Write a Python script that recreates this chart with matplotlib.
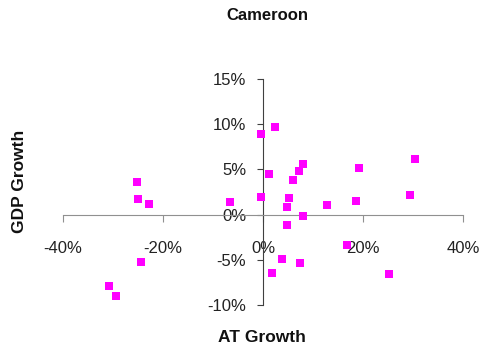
import matplotlib
matplotlib.use("Agg")
import matplotlib.pyplot as plt
from matplotlib.ticker import FuncFormatter

# AT growth (x) and GDP growth (y), in percent
at_growth = [-0.5, 2.3, 1.1, -0.5, 5.2, 4.7, 4.8, 6.0, 7.1, 7.9, 7.9, 12.8, 19.2, 18.7,
             16.8, 30.5, 29.5, 25.3, 3.7, 7.3, 1.7, -25.3, -25.1, -22.9, -6.7, -24.4,
             -30.8, -29.5]
gdp_growth = [8.9, 9.7, 4.5, 2.0, 1.8, 0.8, -1.2, 3.8, 4.8, 5.6, -0.2, 1.1, 5.2, 1.5,
              -3.4, 6.2, 2.2, -6.6, -4.9, -5.4, -6.5, 3.6, 1.7, 1.2, 1.4, -5.2,
              -7.9, -9.0]

x_ticks = [-40, -20, 0, 20, 40]
y_ticks = [-10, -5, 0, 5, 10, 15]

plt.rcParams['font.family'] = ['Liberation Sans', 'DejaVu Sans']

fig = plt.figure(figsize=(4.85, 3.54), dpi=100)
ax = fig.add_axes([0.13, 0.1384, 0.8246, 0.6384])

ax.scatter(at_growth, gdp_growth, s=38, marker='s', c='#FF00FF', linewidths=0, zorder=3)

ax.set_xlim(-40, 40)
ax.set_ylim(-10, 15)
ax.set_xticks(x_ticks)
ax.set_yticks(y_ticks)
pct = FuncFormatter(lambda v, _: f"{v:.0f}%")
ax.xaxis.set_major_formatter(pct)
ax.yaxis.set_major_formatter(pct)

ax.spines['left'].set_position('zero')
ax.spines['bottom'].set_position('zero')
ax.spines['right'].set_visible(False)
ax.spines['top'].set_visible(False)
ax.spines['left'].set_color('#404040')
ax.spines['bottom'].set_color('#909090')
ax.tick_params(axis='x', direction='out', length=5, color='#909090',
               labelsize=12, pad=14)
ax.tick_params(axis='y', direction='out', length=4, color='#404040',
               labelsize=12, pad=8)
for lab in ax.get_xticklabels() + ax.get_yticklabels():
    lab.set_color('#222222')

fig.text(267 / 485, 1 - 16 / 354, "Cameroon", ha='center', va='center', fontsize=12,
         fontweight='bold', color='#111111')
fig.text(20 / 485, 1 - 181 / 354, "GDP Growth", ha='center', va='center', rotation=90,
         fontsize=12.5, fontweight='bold', color='#111111')
fig.text(262 / 485, 1 - 337 / 354, "AT Growth", ha='center', va='center',
         fontsize=12.5, fontweight='bold', color='#111111')

fig.savefig("out.png", dpi=100)
